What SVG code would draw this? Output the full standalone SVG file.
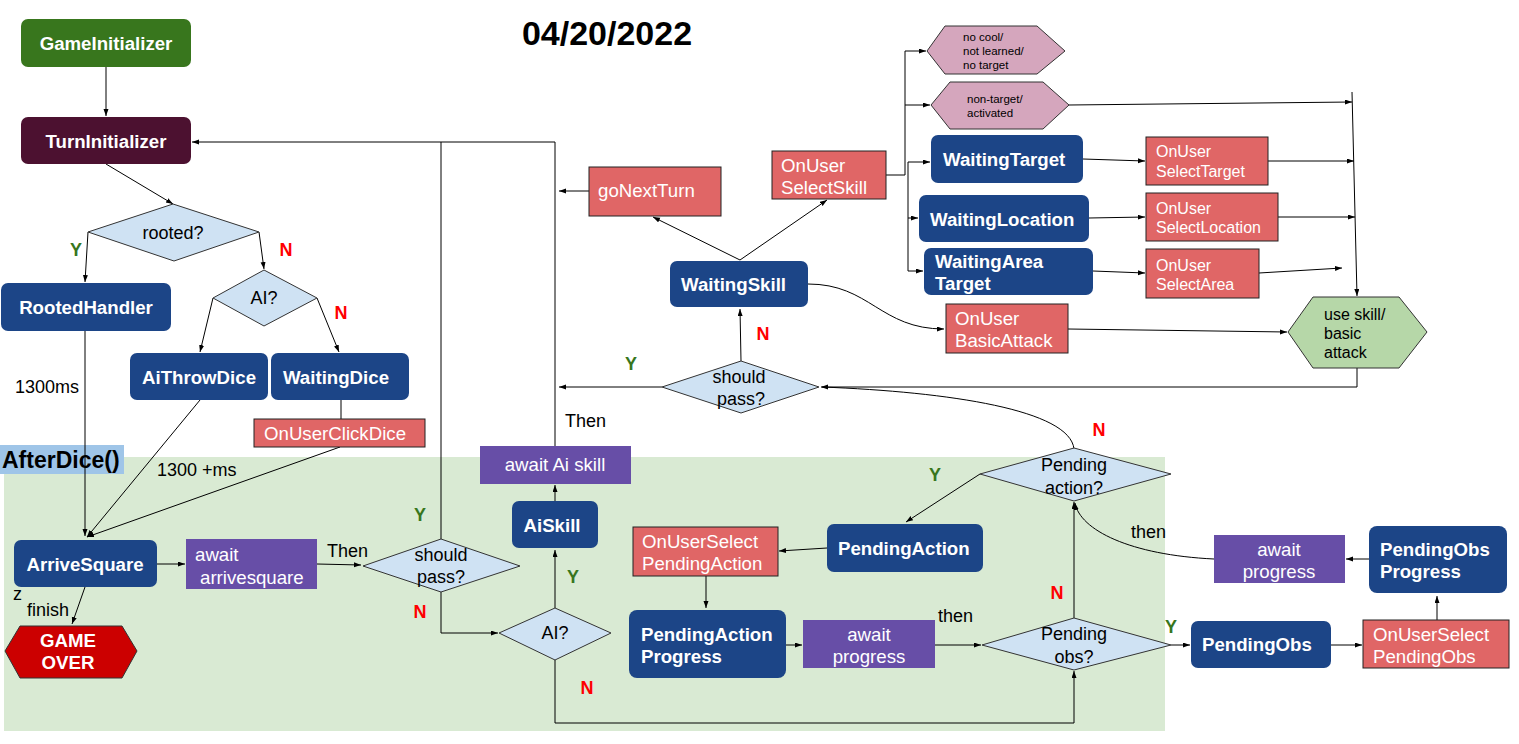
<svg xmlns="http://www.w3.org/2000/svg" width="1519" height="744" viewBox="0 0 1519 744">
<defs>
<marker id="ah" markerUnits="userSpaceOnUse" markerWidth="8" markerHeight="6" refX="7" refY="2.5" orient="auto">
<path d="M0,0 L7,2.5 L0,5 z" fill="#000"/>
</marker>
<style>
text{font-family:"Liberation Sans",Arial,sans-serif}
.b{font-weight:bold;font-size:18.67px;fill:#fff}
.w{font-size:18.67px;fill:#fff}
.w16{font-size:16px;fill:#fff}
.k{font-size:18px;fill:#000}
.k16{font-size:16px;fill:#000}
.sm{font-size:11.5px;fill:#000}
.c{text-anchor:middle}
.Y{font-weight:bold;font-size:18px;fill:#38761d;text-anchor:middle}
.N{font-weight:bold;font-size:18px;fill:#ff0000;text-anchor:middle}
.blue{fill:#1c4587}
.red{fill:#e06666;stroke:#222;stroke-width:1}
.pur{fill:#674ea7}
.dia{fill:#cfe2f3;stroke:#333;stroke-width:1}
.pink{fill:#d5a6bd;stroke:#333;stroke-width:1}
#edges path{fill:none;stroke:#000;stroke-width:1}
#edges path.a{marker-end:url(#ah)}
</style>
</defs>
<rect width="1519" height="744" fill="#fff"/>
<rect x="4" y="457" width="1161" height="274" fill="#d9ead3"/>
<rect x="0" y="445" width="124" height="29" fill="#9fc5e8"/>
<text x="2" y="468" style="font-weight:bold;font-size:23px;fill:#000">AfterDice()</text>
<text x="607" y="45" class="c" style="font-weight:bold;font-size:34px;fill:#000">04/20/2022</text>

<g id="edges">
<path class="a" d="M106 67 L106 116"/>
<path class="a" d="M106 164 L173 204"/>
<path class="a" d="M88 232 L85 282"/>
<path class="a" d="M259 232 L264 269"/>
<path class="a" d="M213 298 L200 352"/>
<path class="a" d="M317 298 L339 352"/>
<path d="M341 400 L341 419"/>
<path class="a" d="M85 331 L85 536"/>
<path class="a" d="M200 400 L87 537"/>
<path class="a" d="M340 447 L87 537"/>
<path class="a" d="M157 564 L185 564"/>
<path class="a" d="M85 587 L72 624"/>
<path class="a" d="M317 564 L361 565"/>
<path d="M441 539 L441 142"/>
<path class="a" d="M555 446 L555 142 L192 142"/>
<path class="a" d="M441 592 L441 633 L498 633"/>
<path class="a" d="M555 608 L555 550"/>
<path class="a" d="M555 501 L555 485"/>
<path class="a" d="M555 660 L555 723 L1074 723 L1074 671"/>
<path class="a" d="M589 191 L559 191"/>
<path class="a" d="M662 387 L559 387"/>
<path class="a" d="M741 361 L740 309"/>
<path class="a" d="M740 260 L653 217"/>
<path class="a" d="M740 260 L827 200"/>
<path d="M886 175 L905 175 M905 51 L905 175 M908 162 L908 271"/>
<path class="a" d="M905 51 L926 51"/>
<path class="a" d="M905 105 L930 105"/>
<path class="a" d="M908 162 L930 162"/>
<path class="a" d="M908 218 L918 218"/>
<path class="a" d="M908 271 L923 271"/>
<path class="a" d="M1069 105 L1352 102"/>
<path class="a" d="M1083 159 L1145 161"/>
<path class="a" d="M1089 218 L1145 217"/>
<path class="a" d="M1093 271 L1145 273"/>
<path class="a" d="M1268 161 L1354 161"/>
<path class="a" d="M1278 217 L1355 217"/>
<path class="a" d="M1259 273 L1342 268"/>
<path class="a" d="M1352 92 L1357 296"/>
<path class="a" d="M808 284 C870 284 880 329 944 329"/>
<path class="a" d="M1068 329 L1287 332"/>
<path class="a" d="M1357 368 L1357 387 L821 387"/>
<path d="M1074 449 C1070 410 950 392 822 387"/>
<path class="a" d="M980 474 L906 522"/>
<path class="a" d="M827 548 L779 551"/>
<path class="a" d="M706 576 L706 608"/>
<path class="a" d="M786 645 L802 645"/>
<path class="a" d="M935 645 L981 645"/>
<path class="a" d="M1074 618 L1074 502"/>
<path class="a" d="M1171 645 L1190 645"/>
<path class="a" d="M1331 645 L1362 645"/>
<path class="a" d="M1437 620 L1437 596"/>
<path class="a" d="M1369 559 L1346 559"/>
<path class="a" d="M1214 559 C1130 555 1080 530 1075 503"/>
</g>

<g id="labels">
<text x="15" y="393" class="k">1300ms</text>
<text x="157" y="476" class="k">1300 +ms</text>
<text x="327" y="557" class="k">Then</text>
<text x="565" y="427" class="k">Then</text>
<text x="938" y="622" class="k">then</text>
<text x="1131" y="538" class="k">then</text>
<text x="13" y="600" class="k">z</text>
<text x="27" y="616" class="k">finish</text>
<text x="76" y="256" class="Y">Y</text>
<text x="286" y="256" class="N">N</text>
<text x="341" y="319" class="N">N</text>
<text x="631" y="370" class="Y">Y</text>
<text x="763" y="340" class="N">N</text>
<text x="420" y="521" class="Y">Y</text>
<text x="420" y="618" class="N">N</text>
<text x="573" y="583" class="Y">Y</text>
<text x="587" y="694" class="N">N</text>
<text x="1099" y="436" class="N">N</text>
<text x="935" y="481" class="Y">Y</text>
<text x="1057" y="599" class="N">N</text>
<text x="1171" y="633" class="Y">Y</text>
</g>

<g id="GameInitializer"><rect x="21" y="19" width="170" height="48" rx="7" fill="#38761d"/><text x="106" y="50" class="b c">GameInitializer</text></g>
<g id="TurnInitializer"><rect x="21" y="117" width="170" height="47" rx="7" fill="#4c1130"/><text x="106" y="148" class="b c">TurnInitializer</text></g>
<g id="rooted"><polygon points="173,204 259,232 174,261 88,232" class="dia"/><text x="173" y="239" class="k c">rooted?</text></g>
<g id="RootedHandler"><rect x="1" y="283" width="170" height="48" rx="7" class="blue"/><text x="86" y="314" class="b c">RootedHandler</text></g>
<g id="AI1"><polygon points="264,270 317,298 264,326 213,298" class="dia"/><text x="264" y="304" class="k c">AI?</text></g>
<g id="AiThrowDice"><rect x="130" y="353" width="138" height="47" rx="7" class="blue"/><text x="199" y="384" class="b c">AiThrowDice</text></g>
<g id="WaitingDice"><rect x="271" y="353" width="138" height="47" rx="7" class="blue"/><text x="336" y="384" class="b c">WaitingDice</text></g>
<g id="OnUserClickDice"><rect x="254" y="419" width="171" height="28" class="red"/><text x="264" y="440" class="w">OnUserClickDice</text></g>
<g id="ArriveSquare"><rect x="14" y="540" width="143" height="47" rx="7" class="blue"/><text x="85" y="571" class="b c">ArriveSquare</text></g>
<g id="awaitArrive"><rect x="186" y="539" width="131" height="50" class="pur"/><text x="195" y="561" class="w">await</text><text x="200" y="584" class="w">arrivesquare</text></g>
<g id="GameOver"><polygon points="5,651 20,626 122,626 137,651 122,678 20,678" fill="#cc0000" stroke="#333"/><text x="68" y="647" class="b c">GAME</text><text x="68" y="669" class="b c">OVER</text></g>
<g id="shouldPass2"><polygon points="441,539 520,566 441,592 363,566" class="dia"/><text x="441" y="561" class="k c">should</text><text x="441" y="583" class="k c">pass?</text></g>
<g id="AI2"><polygon points="555,608 611,633 555,660 499,633" class="dia"/><text x="555" y="639" class="k c">AI?</text></g>
<g id="AiSkill"><rect x="512" y="501" width="86" height="47" rx="7" class="blue"/><text x="552" y="532" class="b c">AiSkill</text></g>
<g id="awaitAiSkill"><rect x="480" y="446" width="151" height="38" class="pur"/><text x="555" y="471" class="w c">await Ai skill</text></g>
<g id="goNextTurn"><rect x="589" y="167" width="132" height="49" class="red"/><text x="598" y="197" class="w">goNextTurn</text></g>
<g id="OnUserSelectSkill"><rect x="772" y="151" width="114" height="48" class="red"/><text x="781" y="172" class="w">OnUser</text><text x="781" y="194" class="w">SelectSkill</text></g>
<g id="WaitingSkill"><rect x="670" y="261" width="138" height="46" rx="7" class="blue"/><text x="681" y="291" class="b">WaitingSkill</text></g>
<g id="shouldPass1"><polygon points="741,361 819,387 741,413 662,387" class="dia"/><text x="739" y="383" class="k c">should</text><text x="741" y="405" class="k c">pass?</text></g>
<g id="noCool"><polygon points="927,51 945,26 1037,26 1065,51 1037,74 945,74" class="pink"/><text x="963" y="41" class="sm">no cool/</text><text x="963" y="55" class="sm">not learned/</text><text x="963" y="69" class="sm">no target</text></g>
<g id="nonTarget"><polygon points="931,105 950,82 1043,82 1069,105 1043,129 950,129" class="pink"/><text x="967" y="103" class="sm">non-target/</text><text x="967" y="117" class="sm">activated</text></g>
<g id="WaitingTarget"><rect x="931" y="135" width="152" height="48" rx="7" class="blue"/><text x="943" y="166" class="b">WaitingTarget</text></g>
<g id="WaitingLocation"><rect x="919" y="195" width="170" height="47" rx="7" class="blue"/><text x="930" y="226" class="b">WaitingLocation</text></g>
<g id="WaitingAreaTarget"><rect x="924" y="248" width="169" height="47" rx="7" class="blue"/><text x="935" y="268" class="b">WaitingArea</text><text x="935" y="290" class="b">Target</text></g>
<g id="OnUserSelectTarget"><rect x="1146" y="137" width="122" height="48" class="red"/><text x="1156" y="157" class="w16">OnUser</text><text x="1156" y="177" class="w16">SelectTarget</text></g>
<g id="OnUserSelectLocation"><rect x="1146" y="193" width="132" height="48" class="red"/><text x="1156" y="214" class="w16">OnUser</text><text x="1156" y="233" class="w16">SelectLocation</text></g>
<g id="OnUserSelectArea"><rect x="1146" y="249" width="113" height="49" class="red"/><text x="1156" y="271" class="w16">OnUser</text><text x="1156" y="290" class="w16">SelectArea</text></g>
<g id="OnUserBasicAttack"><rect x="946" y="304" width="122" height="49" class="red"/><text x="955" y="325" class="w">OnUser</text><text x="955" y="347" class="w">BasicAttack</text></g>
<g id="useSkill"><polygon points="1288,332 1313,297 1399,297 1427,332 1399,368 1313,368" fill="#b6d7a8" stroke="#333"/><text x="1324" y="320" class="k16">use skill/</text><text x="1324" y="339" class="k16">basic</text><text x="1324" y="358" class="k16">attack</text></g>
<g id="pendingActionQ"><polygon points="1074,448 1171,474 1074,501 980,474" class="dia"/><text x="1074" y="471" class="k c">Pending</text><text x="1074" y="494" class="k c">action?</text></g>
<g id="PendingAction"><rect x="827" y="524" width="156" height="48" rx="7" class="blue"/><text x="838" y="555" class="b">PendingAction</text></g>
<g id="OnUserSelectPendingAction"><rect x="633" y="527" width="145" height="49" class="red"/><text x="642" y="548" class="w">OnUserSelect</text><text x="642" y="570" class="w">PendingAction</text></g>
<g id="PendingActionProgress"><rect x="629" y="610" width="157" height="68" rx="8" class="blue"/><text x="641" y="641" class="b">PendingAction</text><text x="641" y="663" class="b">Progress</text></g>
<g id="awaitProgress1"><rect x="803" y="620" width="132" height="48" class="pur"/><text x="869" y="641" class="w c">await</text><text x="869" y="663" class="w c">progress</text></g>
<g id="pendingObsQ"><polygon points="1074,618 1171,645 1074,670 982,645" class="dia"/><text x="1074" y="640" class="k c">Pending</text><text x="1074" y="663" class="k c">obs?</text></g>
<g id="PendingObs"><rect x="1191" y="621" width="140" height="47" rx="7" class="blue"/><text x="1202" y="651" class="b">PendingObs</text></g>
<g id="OnUserSelectPendingObs"><rect x="1363" y="620" width="146" height="48" class="red"/><text x="1373" y="641" class="w">OnUserSelect</text><text x="1373" y="663" class="w">PendingObs</text></g>
<g id="PendingObsProgress"><rect x="1369" y="526" width="138" height="67" rx="8" class="blue"/><text x="1380" y="556" class="b">PendingObs</text><text x="1380" y="578" class="b">Progress</text></g>
<g id="awaitProgress2"><rect x="1214" y="535" width="131" height="48" class="pur"/><text x="1279" y="556" class="w c">await</text><text x="1279" y="578" class="w c">progress</text></g>
</svg>
